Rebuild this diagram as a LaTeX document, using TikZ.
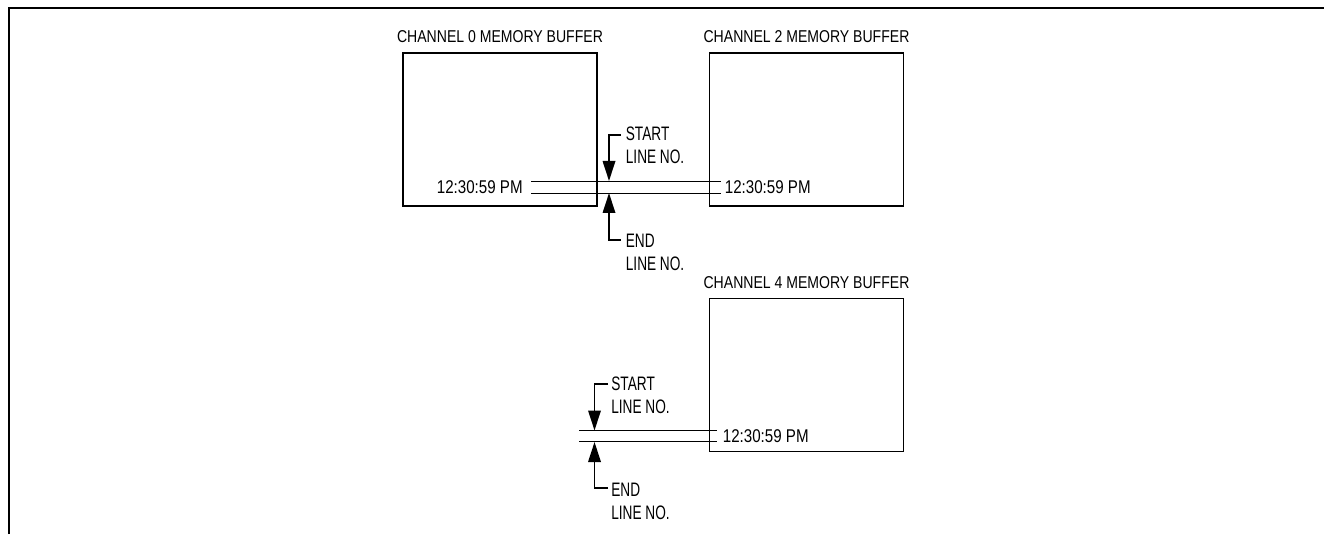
\documentclass[tikz,border=0pt]{standalone}
\usepackage{fontspec}
\setmainfont{Liberation Sans}[FakeStretch=0.82]
\newfontfamily\narrowfont{Liberation Sans}[FakeStretch=0.7]
\usetikzlibrary{arrows.meta}

\begin{document}
\begin{tikzpicture}[
    buffer/.style={rectangle, draw, line width=1pt, minimum width=3.88cm, minimum height=3.06cm, inner sep=0pt},
    title/.style={inner sep=0pt, font=\fontsize{9.75}{11}\selectfont},
    stamp/.style={inner sep=0pt, font=\fontsize{10.5}{12}\selectfont},
    marker/.style={inner sep=0pt, anchor=north west, align=left, font=\narrowfont\fontsize{11.1}{12.9}\selectfont},
    pointer/.style={line width=1pt, -{Triangle[width=0.25cm, length=0.4cm]}},
    scanline/.style={line width=0.5pt}
]
    \useasboundingbox (0,0) rectangle (26.48,10.68);
    \draw[line width=1.1pt] (0.18,0) |- (26.48,10.52);

    \node[buffer, label={[title, label distance=0.18cm]above:CHANNEL 0 MEMORY BUFFER}] (buf0) at (10,8.09) {};
    \node[buffer, label={[title, label distance=0.18cm]above:CHANNEL 2 MEMORY BUFFER}] (buf2) at (16.13,8.09) {};
    \node[buffer, label={[title, label distance=0.18cm]above:CHANNEL 4 MEMORY BUFFER}] (buf4) at (16.13,3.18) {};

    \node[stamp, anchor=east] (ts0) at (10.46,6.94) {12:30:59 PM};
    \node[stamp, anchor=west] (ts2) at (14.49,6.94) {12:30:59 PM};
    \node[stamp, anchor=west] (ts4) at (14.45,1.96) {12:30:59 PM};
    \coordinate (cut4) at (11.58,1.96);

    \draw[scanline] ([shift={(0.16,0.12)}]ts0.east) -- ([shift={(-0.07,0.12)}]ts2.west);
    \draw[scanline] ([shift={(0.16,-0.12)}]ts0.east) -- ([shift={(-0.07,-0.12)}]ts2.west);
    \draw[scanline] ([yshift=0.115cm]cut4) -- ([shift={(-0.12,0.115)}]ts4.west);
    \draw[scanline] ([yshift=-0.115cm]cut4) -- ([shift={(-0.12,-0.115)}]ts4.west);

    \coordinate (hitA) at (12.18,7.06);
    \coordinate (hitB) at (12.18,6.82);
    \coordinate (tickA) at (12.41,7.98);
    \coordinate (tickB) at (12.41,5.88);
    \node[marker] (startA) at ([shift={(0.1,0.16)}]tickA) {START\\LINE NO.};
    \node[marker] (endA) at ([shift={(0.1,0.12)}]tickB) {END\\LINE NO.};
    \draw[pointer] (tickA) -| (hitA);
    \draw[pointer] (tickB) -| (hitB);

    \coordinate (hitC) at (11.89,2.07);
    \coordinate (hitD) at (11.89,1.84);
    \coordinate (tickC) at (12.16,3.0);
    \coordinate (tickD) at (12.16,0.92);
    \node[marker] (startB) at ([shift={(0.06,0.15)}]tickC) {START\\LINE NO.};
    \node[marker] (endB) at ([shift={(0.06,0.1)}]tickD) {END\\LINE NO.};
    \draw[pointer] (tickC) -| (hitC);
    \draw[pointer] (tickD) -| (hitD);
\end{tikzpicture}
\end{document}
